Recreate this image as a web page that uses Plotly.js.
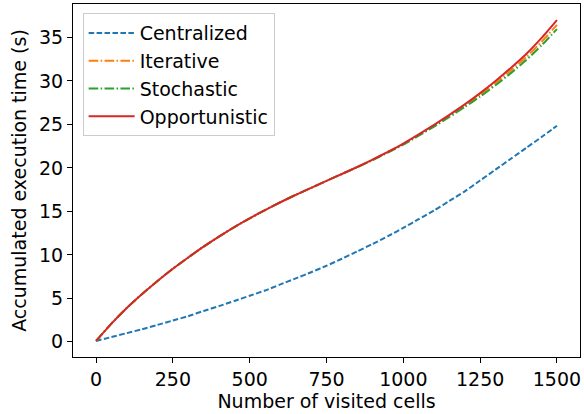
<!DOCTYPE html>
<html>
<head>
<meta charset="utf-8">
<script src="https://cdn.plot.ly/plotly-3.0.1.min.js"></script>
<style>html,body{margin:0;padding:0;background:#fff;}#chart{width:584px;height:414px;}</style>
</head>
<body>
<div id="chart"></div>
<script>
const cells = [0,50,100,150,200,250,300,350,400,450,500,550,600,650,700,750,800,850,900,950,1000,1050,1100,1150,1200,1250,1300,1350,1400,1450,1500];
const centralized = [0.1,0.55,1.0,1.45,1.95,2.45,2.95,3.55,4.1,4.7,5.3,5.9,6.6,7.3,8.0,8.75,9.55,10.4,11.25,12.15,13.1,14.1,15.1,16.2,17.3,18.55,19.8,21.05,22.3,23.55,24.85];
const iterative = [0.1,2.1,3.9,5.5,7.0,8.4,9.7,10.95,12.1,13.2,14.2,15.15,16.05,16.9,17.7,18.5,19.3,20.1,20.95,21.83,22.75,23.78,24.85,25.98,27.15,28.4,29.75,31.2,32.75,34.5,36.45];
const stochastic = [0.1,2.1,3.9,5.5,7.0,8.4,9.7,10.95,12.1,13.2,14.2,15.15,16.05,16.9,17.7,18.5,19.3,20.08,20.9,21.77,22.68,23.7,24.75,25.85,27.0,28.2,29.5,30.9,32.4,34.1,35.95];
const opportunistic = [0.1,2.1,3.9,5.5,7.0,8.4,9.7,10.95,12.1,13.2,14.2,15.15,16.05,16.9,17.7,18.5,19.3,20.1,20.95,21.85,22.8,23.85,24.95,26.1,27.3,28.6,30.0,31.5,33.1,34.95,37.0];
const names = ["Centralized","Iterative","Stochastic","Opportunistic"];
const xTicks = [0,250,500,750,1000,1250,1500];
const yTicks = [0,5,10,15,20,25,30,35];

const FONT = "DejaVu Sans, sans-serif";
const series = [centralized, iterative, stochastic, opportunistic];
const colors = ["#1f77b4","#ff7f0e","#2ca02c","#d62728"];
const dashes = ["5.55px,2.4px","9.6px,2.4px,1.5px,2.4px","9.6px,2.4px,1.5px,2.4px","solid"];

const traces = series.map((ys,i)=>({
  x: cells, y: ys, name: names[i], type: "scatter", mode: "lines",
  line: {color: colors[i], width: 2, dash: dashes[i], shape: "spline", smoothing: 0.5}
}));

const axisCommon = {
  showgrid: false, zeroline: false, showline: true, mirror: true,
  linecolor: "#000", linewidth: 1, ticks: "outside", ticklen: 5, tickwidth: 1, tickcolor: "#000",
  tickfont: {family: FONT, size: 19, color: "#000"}
};

const layout = {
  width: 584, height: 414,
  margin: {l: 73, r: 4, t: 4, b: 57},
  paper_bgcolor: "#fff", plot_bgcolor: "#fff",
  font: {family: FONT, color: "#000"},
  showlegend: true,
  xaxis: Object.assign({}, axisCommon, {
    range: [-75, 1575], tickvals: xTicks, ticktext: xTicks.map(String),
    title: {text: "Number of visited cells", font: {family: FONT, size: 19, color: "#000"}, standoff: 3}
  }),
  yaxis: Object.assign({}, axisCommon, {
    range: [-1.745, 38.845], tickvals: yTicks, ticktext: yTicks.map(String),
    title: {text: "Accumulated execution time (s)", font: {family: FONT, size: 19, color: "#000"}, standoff: 7}
  }),
  legend: {
    x: 0.019, y: 0.974, xanchor: "left", yanchor: "top",
    bgcolor: "rgba(255,255,255,0.8)", bordercolor: "#cccccc", borderwidth: 1,
    font: {family: FONT, size: 19, color: "#000"},
    itemwidth: 46
  }
};

Plotly.newPlot("chart", traces, layout, {displayModeBar: false, staticPlot: true});
</script>
</body>
</html>
